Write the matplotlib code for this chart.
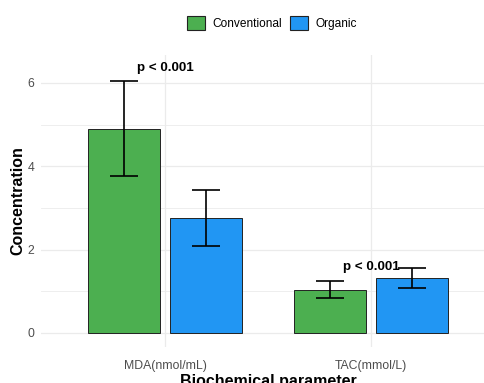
import matplotlib.pyplot as plt
import numpy as np
from matplotlib.patches import Patch

plt.rcParams['font.family'] = ['Liberation Sans', 'DejaVu Sans']

# data
parameters = ['MDA(nmol/mL)', 'TAC(mmol/L)']
groups = ['Conventional', 'Organic']
means = {
    'Conventional': [4.90, 1.04],
    'Organic': [2.76, 1.32],
}
sds = {
    'Conventional': [1.14, 0.21],
    'Organic': [0.67, 0.24],
}
p_labels = ['p < 0.001', 'p < 0.001']
p_label_y = [6.36, 1.58]

colors = {'Conventional': '#4CAF50', 'Organic': '#2196F3'}

W, H = 484, 383
fig = plt.figure(figsize=(W / 100, H / 100), dpi=100)
# panel in pixel coords: left 41, right 494 (cropped), top 55, bottom 347
left, right, top, bottom = 41.4, 494.6, 55, 347
ax = fig.add_axes([left / W, 1 - bottom / H, (right - left) / W, (bottom - top) / H])

x = np.arange(1, len(parameters) + 1)
offsets = {'Conventional': -0.2, 'Organic': 0.2}
width = 0.35

ax.set_axisbelow(True)
for g in groups:
    ax.bar(x + offsets[g], means[g], width, color=colors[g],
           edgecolor='#222222', linewidth=0.7, zorder=2)
    ax.errorbar(x + offsets[g], means[g], yerr=sds[g], fmt='none',
                ecolor='black', elinewidth=1.2, capsize=10, capthick=1.2, zorder=3)

for xi, lab, yy in zip(x, p_labels, p_label_y):
    ax.text(xi, yy, lab, ha='center', va='center', fontsize=9.6,
            fontweight='bold', color='black', zorder=4)

ax.set_xlim(0.4, 2.6)
ax.set_ylim(-0.336, 6.67)
ax.set_xticks(x)
ax.set_xticklabels(parameters)
ax.set_yticks([0, 2, 4, 6])
ax.set_yticks([1, 3, 5], minor=True)
ax.tick_params(axis='both', which='both', length=0, labelsize=8.8,
               labelcolor='#4D4D4D')
ax.tick_params(axis='x', pad=9)
ax.tick_params(axis='y', pad=5)
ax.grid(True, which='major', color='#EBEBEB', linewidth=0.9)
ax.grid(True, which='minor', axis='y', color='#EBEBEB', linewidth=0.6)
for s in ax.spines.values():
    s.set_visible(False)

ax.set_ylabel('Concentration', fontsize=11.5, fontweight='bold')
ax.set_xlabel('Biochemical parameter', fontsize=11.5, fontweight='bold', labelpad=2)
ax.yaxis.set_label_coords(-0.036, 0.5)

handles = [Patch(facecolor=colors[g], edgecolor='#222222', linewidth=0.8, label=g)
           for g in groups]
fig.legend(handles=handles, loc='center', bbox_to_anchor=(272 / W, 1 - 23 / H),
           ncol=2, frameon=False, fontsize=8.6, handlelength=1.5, handleheight=1.5,
           handletextpad=0.6, columnspacing=0.7, borderpad=0)

fig.savefig('out.png', dpi=100)
